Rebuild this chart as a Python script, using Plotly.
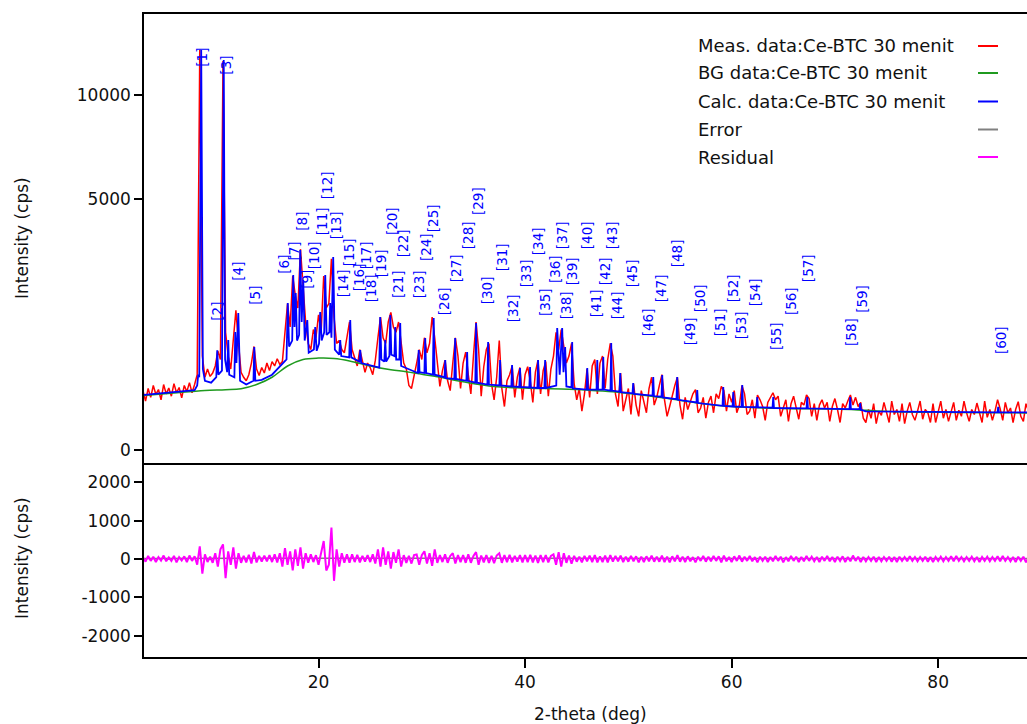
import numpy as np
import plotly.graph_objects as go

# ---------------- data ----------------
scan_start = 3.0      # deg 2-theta
scan_step = 0.25      # deg

# measured intensity (cps), one row = 5 deg
meas = [
    280, 190, 300, 220, 330, 245, 290, 200, 340, 250, 305, 230, 350, 260, 310, 215, 330, 270, 360, 260,   # 3.00
    340, 450, 12700, 700, 420, 520, 430, 470, 560, 780, 650, 12000, 1100, 700, 520, 1000, 1550, 900, 480, 420,  # 8.00
    380, 450, 600, 850, 520, 440, 540, 470, 600, 500, 620, 560, 660, 580, 620, 1100, 1700, 1200, 2400, 1900,  # 13.00
    1600, 3200, 2200, 1300, 900, 800, 1150, 1000, 1450, 1100, 2400, 1600, 1700, 2900, 1400, 900, 950, 800, 750, 1000,  # 18.00
    1300, 800, 680, 560, 800, 620, 480, 600, 540, 450, 640, 1000, 1400, 1000, 900, 1300, 1500, 1200, 1100, 1300,  # 23.00
    900, 600, 520, 330, 300, 460, 600, 800, 650, 1000, 750, 900, 1400, 1000, 600, 320, 500, 640, 380, 280,  # 28.00
    600, 1000, 700, 300, 600, 760, 450, 250, 700, 1300, 800, 230, 550, 800, 900, 350, 200, 420, 950, 300,  # 33.00
    150, 380, 450, 560, 220, 420, 540, 200, 450, 550, 380, 180, 480, 640, 250, 500, 620, 230, 520, 700,  # 38.00
    1100, 800, 1150, 850, 600, 700, 900, 350, 200, 300, 120, 250, 520, 220, 560, 650, 250, 600, 700, 300,  # 43.00
    650, 900, 700, 250, 150, 470, 120, 200, 300, 100, 350, 160, 90, 280, 180, 110, 300, 420, 160, 220,  # 48.00
    330, 450, 200, 90, 150, 240, 330, 420, 160, 75, 220, 130, 190, 250, 290, 110, 140, 220, 80, 180,  # 53.00
    230, 110, 250, 210, 320, 280, 120, 250, 180, 280, 110, 160, 330, 250, 100, 120, 200, 80, 240, 200,  # 58.00
    150, 70, 180, 220, 260, 200, 230, 90, 140, 200, 65, 170, 230, 150, 75, 180, 160, 240, 210, 90,  # 63.00
    170, 70, 160, 200, 140, 180, 65, 150, 210, 130, 60, 170, 140, 190, 240, 160, 220, 150, 180, 80,  # 68.00
    60, 130, 80, 170, 55, 120, 95, 180, 110, 60, 190, 100, 130, 65, 170, 55, 120, 180, 100, 70,  # 73.00
    120, 190, 75, 130, 110, 60, 170, 60, 115, 190, 80, 130, 65, 120, 180, 70, 125, 90, 190, 110,  # 78.00
    65, 130, 100, 175, 115, 60, 190, 85, 130, 70, 120, 200, 135, 70, 180, 110, 140, 60, 130, 185,  # 83.00
    90, 65, 170, 120,  # 88.00
]

# residual (cps) on the same scan grid
resid = [
    40, -70, 80, -50, 60, -80, 50, -40, 90, -60, 40, -50, 80, -90, 50, -40, 70, -80, 90, -50,
    70, -150, 330, -380, 120, -80, 60, -100, 150, -200, 250, 380, -500, 200, -150, 300, -250, 150, -100, 80,
    -90, 110, -120, 180, -90, 80, -70, 90, -60, 100, -80, 120, -90, 150, -200, 280, -150, 200, -300, 250,
    -180, 300, -250, 150, -100, 120, -80, 100, -150, 200, 470, -300, -150, 820, -570, 250, -200, 150, -100, 120,
    -100, 120, -80, 110, -90, 80, -70, 100, -80, 120, -120, 250, -200, 300, -150, 200, -250, 180, -100, 250,
    -200, 100, -100, 80, -120, 100, 120, -150, 100, 200, -120, 150, -180, 250, -100, 100, -80, 120, -100, 80,
    150, -120, 100, -80, 100, -100, 120, -100, 80, 180, -150, 90, -90, 100, -100, 80, -110, 90, 150, -100,
    100, -80, 110, -90, 80, -70, 100, -90, 100, -80, 110, -90, 90, -100, 100, -80, 100, -90, 80, 120,
    -150, 180, -200, 150, -100, 90, -120, 80, -70, 60, -90, 80, -60, 90, -80, 100, -90, 70, -80, 90,
    -90, 100, -70, 80, -60, 90, -80, 60, -70, 80, -60, 70, -90, 60, -80, 70, -60, 90, -70, 60,
    -70, 90, -80, 60, -90, 70, -60, 100, -70, 60, -80, 70, -60, 50, -90, 60, -50, 80, -70, 60,
    -60, 80, -50, 70, -90, 90, -60, 50, -80, 70, -50, 90, -70, 60, -50, 80, -60, 50, -90, 60,
    -50, 60, -80, 50, -60, 80, -50, 60, -90, 50, -60, 80, -50, 60, -80, 50, -60, 80, -50, 60,
    -60, 50, -80, 60, -50, 80, -60, 50, -80, 60, -50, 70, -80, 50, -60, 90, -50, 60, -80, 50,
    -60, 50, -50, 60, -80, 50, -60, 50, -50, 60, -70, 50, -80, 60, -50, 50, -60, 70, -50, 50,
    -60, 50, -50, 60, -70, 50, -80, 50, -50, 60, -60, 50, -50, 70, -60, 80, -50, 50, -60, 50,
    -50, 60, -60, 50, -80, 50, -50, 60, -60, 50, -50, 70, -60, 80, -50, 50, -60, 50, -80, 60,
    -50, 60, -90, 50,
]

# background (cps)
bg_x = [3.0, 6.0, 9.0, 11.0, 12.5, 14.0, 15.5, 17.0, 18.5, 20.0, 21.5, 23.0, 25.0, 27.0, 28.5, 30.0, 31.5,
        34.0, 37.0, 40.0, 43.5, 46.0, 48.5, 51.0, 53.5, 56.5, 60.0, 65.0, 70.0, 73.0, 76.0, 82.0, 88.7]
bg_y = [235, 258, 280, 288, 298, 340, 420, 560, 650, 670, 665, 630, 560, 510, 487, 455, 426,
        370, 320, 305, 295, 285, 270, 245, 215, 178, 150, 137, 133, 125, 116, 112, 109]

# calculated profile (2-theta, cps)
calc_points = [
    (3.0, 240), (8.0, 285), (8.25, 330), (8.35, 450), (8.45, 420), (8.64, 12700), (8.8, 520), (9.0, 380),
    (9.6, 360), (10.1, 420), (10.19, 790), (10.3, 450), (10.65, 500), (10.82, 12070), (10.95, 650),
    (11.15, 480), (11.26, 960), (11.35, 450), (11.85, 420), (11.94, 1105), (12.05, 600), (12.23, 1489),
    (12.4, 380), (13.0, 340), (13.7, 380), (13.78, 842), (13.88, 380), (14.5, 390), (15.5, 450),
    (16.5, 590), (16.9, 650), (17.02, 1715), (17.15, 850), (17.45, 950), (17.55, 2430), (17.67, 1200),
    (17.79, 1956), (17.92, 950), (18.12, 1050), (18.23, 3174), (18.37, 1300), (18.52, 2293), (18.66, 950),
    (18.91, 1341), (19.05, 750), (19.55, 800), (19.68, 1200), (19.82, 780), (20.05, 900), (20.16, 1511),
    (20.3, 950), (20.55, 1100), (20.65, 2430), (20.78, 1050), (21.05, 1100), (21.13, 1715), (21.25, 1000),
    (21.42, 2956), (21.58, 800), (22.0, 720), (22.1, 960), (22.2, 700), (22.97, 680), (23.07, 1341),
    (23.17, 680), (23.95, 620), (24.04, 794), (24.14, 600), (25.88, 540), (25.97, 1404), (26.08, 650),
    (26.37, 620), (26.46, 960), (26.55, 620), (26.86, 700), (26.95, 1446), (27.05, 720), (27.35, 700),
    (27.43, 1200), (27.52, 650), (27.83, 650), (27.91, 1280), (28.0, 560), (29.62, 470), (29.70, 794),
    (29.78, 480), (30.25, 470), (30.33, 995), (30.42, 470), (31.07, 450), (31.15, 1383), (31.24, 450),
    (32.2, 420), (32.27, 643), (32.34, 410), (33.15, 400), (33.23, 995), (33.31, 400), (34.32, 380),
    (34.39, 762), (34.46, 380), (35.18, 360), (35.26, 1280), (35.34, 360), (36.35, 340), (36.42, 926),
    (36.5, 340), (37.51, 330), (37.58, 643), (37.65, 330), (38.67, 320), (38.74, 573), (38.81, 320),
    (39.44, 315), (39.51, 534), (39.58, 315), (40.41, 310), (40.48, 547), (40.55, 310), (41.19, 305),
    (41.26, 643), (41.33, 305), (41.87, 305), (41.94, 643), (42.01, 305), (43.02, 330), (43.11, 1181),
    (43.35, 450), (43.59, 1181), (43.72, 480), (43.88, 842), (44.0, 320), (44.49, 310), (44.56, 926),
    (44.63, 300), (45.95, 290), (46.02, 534), (46.09, 290), (46.92, 290), (46.99, 643), (47.06, 290),
    (47.5, 290), (47.57, 686), (47.64, 290), (48.27, 280), (48.34, 908), (48.41, 280), (49.14, 270),
    (49.21, 470), (49.28, 265), (50.4, 255), (50.47, 356), (50.54, 250), (52.34, 235), (52.41, 423),
    (52.48, 230), (53.21, 225), (53.28, 446), (53.35, 220), (54.66, 205), (54.73, 423), (54.8, 200),
    (56.6, 180), (56.67, 286), (56.74, 175), (59.12, 155), (59.19, 315), (59.26, 155), (60.09, 150),
    (60.16, 267), (60.23, 150), (60.96, 148), (61.03, 335), (61.1, 148), (62.41, 145), (62.48, 223),
    (62.55, 145), (63.96, 142), (64.03, 223), (64.1, 140), (67.25, 137), (67.32, 223), (67.39, 137),
    (71.41, 133), (71.48, 223), (71.55, 133), (72.38, 132), (72.45, 175), (72.52, 128), (73.0, 118),
    (85.74, 112), (85.81, 147), (85.88, 112), (88.7, 112),
]

# error (cps)
err_x = [3.0, 10.0, 20.0, 30.0, 40.0, 50.0, 60.0, 70.0, 80.0, 88.7]
err_y = [15, 20, 25, 20, 18, 15, 12, 11, 10, 10]

# peak labels: position (deg) and height of label anchor (cps)
peak_pos = [8.74, 10.19, 11.06, 12.22, 13.77, 16.68, 17.64, 18.32, 18.81, 19.58,
            20.36, 20.84, 21.71, 22.39, 22.97, 23.94, 24.62, 25.10, 26.07, 27.13,
            27.71, 28.20, 29.75, 30.42, 31.10, 32.17, 33.33, 34.49, 35.45, 36.34,
            37.78, 38.85, 40.11, 41.27, 41.94, 42.91, 43.59, 43.98, 44.56, 46.02,
            46.89, 47.76, 48.44, 48.93, 50.38, 51.93, 53.19, 54.74, 56.00, 56.95,
            58.89, 60.15, 60.92, 62.28, 64.31, 65.76, 67.41, 71.55, 72.61, 86.09]
label_heights = [11580, 1300, 11100, 2240, 1645, 2430, 2805, 3770, 2030, 2570,
                 3635, 4960, 3500, 1835, 2657, 1980, 2570, 1715, 2347, 3635,
                 1810, 2925, 1810, 2805, 3735, 1425, 2213, 3174, 4345, 1668,
                 2514, 1280, 2082, 2986, 1404, 2187, 3174, 1341, 2134, 3174,
                 1383, 2134, 3174, 1341, 2082, 1013, 1715, 2628, 858, 1489,
                 1013, 1715, 960, 1623, 778, 1425, 2213, 842, 1468, 716]
peak_labels = [f"[{i}]" for i in range(1, len(peak_pos) + 1)]

series_names = ["Meas. data:Ce-BTC 30 menit", "BG data:Ce-BTC 30 menit",
                "Calc. data:Ce-BTC 30 menit", "Error", "Residual"]
series_colors = ["#ff0000", "#1f9a1f", "#0000ff", "#808080", "#ff00ff"]

y_ticks_top = [0, 5000, 10000]
y_ticks_bottom = [-2000, -1000, 0, 1000, 2000]
x_ticks = [20, 40, 60, 80]

# ---------------- figure ----------------
scan_x = scan_start + scan_step * np.arange(len(meas))
calc_x = [p[0] for p in calc_points]
calc_y = [p[1] for p in calc_points]

FONT = "DejaVu Sans"
fig = go.Figure()

fig.add_trace(go.Scatter(x=scan_x, y=np.sqrt(meas), mode="lines", name=series_names[0],
                         line=dict(color=series_colors[0], width=1.5), xaxis="x", yaxis="y"))
fig.add_trace(go.Scatter(x=bg_x, y=np.sqrt(bg_y), mode="lines", name=series_names[1],
                         line=dict(color=series_colors[1], width=1.5, shape="spline"), xaxis="x", yaxis="y"))
fig.add_trace(go.Scatter(x=calc_x, y=np.sqrt(calc_y), mode="lines", name=series_names[2],
                         line=dict(color=series_colors[2], width=1.8), xaxis="x", yaxis="y"))
fig.add_trace(go.Scatter(x=err_x, y=err_y, mode="lines", name=series_names[3],
                         line=dict(color=series_colors[3], width=1.5), xaxis="x2", yaxis="y2"))
fig.add_trace(go.Scatter(x=scan_x[:len(resid)], y=resid, mode="lines", name=series_names[4],
                         line=dict(color=series_colors[4], width=2), xaxis="x2", yaxis="y2"))

# page body margin is removed by the post script, so window pixels = figure pixels
W, H = 1027, 724
PL, PT, PB = 144, 14, 657          # plot-area edges in window pixels
ML, MT, MR = PL, PT, 0
MB = H - PB
PW, PH = W - ML - MR, H - MT - MB
split = (PB - 463) / PH


def px(xp):
    return (xp - PL) / PW


def py(yp):
    return (PB - yp) / PH


annotations = []
for pos, h, txt in zip(peak_pos, label_heights, peak_labels):
    annotations.append(dict(x=pos, y=float(np.sqrt(h)), xref="x", yref="y", text=txt,
                            showarrow=False, textangle=-90, xanchor="center", yanchor="bottom",
                            font=dict(family=FONT, size=13.5, color="#0000ff"), borderpad=0))

# axis titles
annotations.append(dict(x=px(22), y=py(238), xref="paper", yref="paper", text="Intensity (cps)",
                        textangle=-90, showarrow=False, xanchor="center", yanchor="middle",
                        font=dict(family=FONT, size=17, color="#111")))
annotations.append(dict(x=px(22), y=py(558), xref="paper", yref="paper", text="Intensity (cps)",
                        textangle=-90, showarrow=False, xanchor="center", yanchor="middle",
                        font=dict(family=FONT, size=17, color="#111")))
annotations.append(dict(x=px(590), y=py(714), xref="paper", yref="paper", text="2-theta (deg)",
                        showarrow=False, xanchor="center", yanchor="middle",
                        font=dict(family=FONT, size=17, color="#111")))

# legend (text left, line sample right)
shapes = []
legend_rows = [46, 73, 101.5, 129.5, 157]
for name, col, yr in zip(series_names, series_colors, legend_rows):
    annotations.append(dict(x=px(696), y=py(yr), xref="paper", yref="paper", text=name,
                            showarrow=False, xanchor="left", yanchor="middle",
                            font=dict(family=FONT, size=18, color="#111")))
    shapes.append(dict(type="line", xref="paper", yref="paper", x0=px(978), x1=px(998),
                       y0=py(yr), y1=py(yr), line=dict(color=col, width=2)))

axis_common = dict(showgrid=False, zeroline=False, linecolor="black", linewidth=1.5,
                   tickcolor="black", tickwidth=1.5,
                   tickfont=dict(family=FONT, size=17, color="#111"))

fig.update_layout(
    width=W, height=H,
    margin=dict(l=ML, r=MR, t=MT, b=MB, autoexpand=False),
    plot_bgcolor="white", paper_bgcolor="white",
    showlegend=False,
    font=dict(family=FONT, size=17, color="#111"),
    xaxis=dict(domain=[0, 1], anchor="y", range=[3.1, 88.6], showline=True, mirror=True,
               showticklabels=False, ticks="", **axis_common),
    yaxis=dict(domain=[split, 1], anchor="x", range=[-3.66, 122.8], showline=True,
               tickvals=[float(np.sqrt(v)) for v in y_ticks_top],
               ticktext=[str(v) for v in y_ticks_top], ticks="outside", ticklen=8, **axis_common),
    xaxis2=dict(domain=[0, 1], anchor="y2", range=[3.1, 88.6], showline=True, mirror=False,
                tickvals=x_ticks, ticktext=[str(v) for v in x_ticks], ticks="outside", ticklen=9,
                **axis_common),
    yaxis2=dict(domain=[0, split], anchor="x2", range=[-2559, 2506], showline=True,
                tickvals=y_ticks_bottom, ticktext=[str(v) for v in y_ticks_bottom],
                ticks="outside", ticklen=8, **axis_common),
    annotations=annotations,
    shapes=shapes,
)

fig.write_html("out.html", config={"displayModeBar": False},
               post_script="document.body.style.margin='0';document.body.style.overflow='hidden';")
